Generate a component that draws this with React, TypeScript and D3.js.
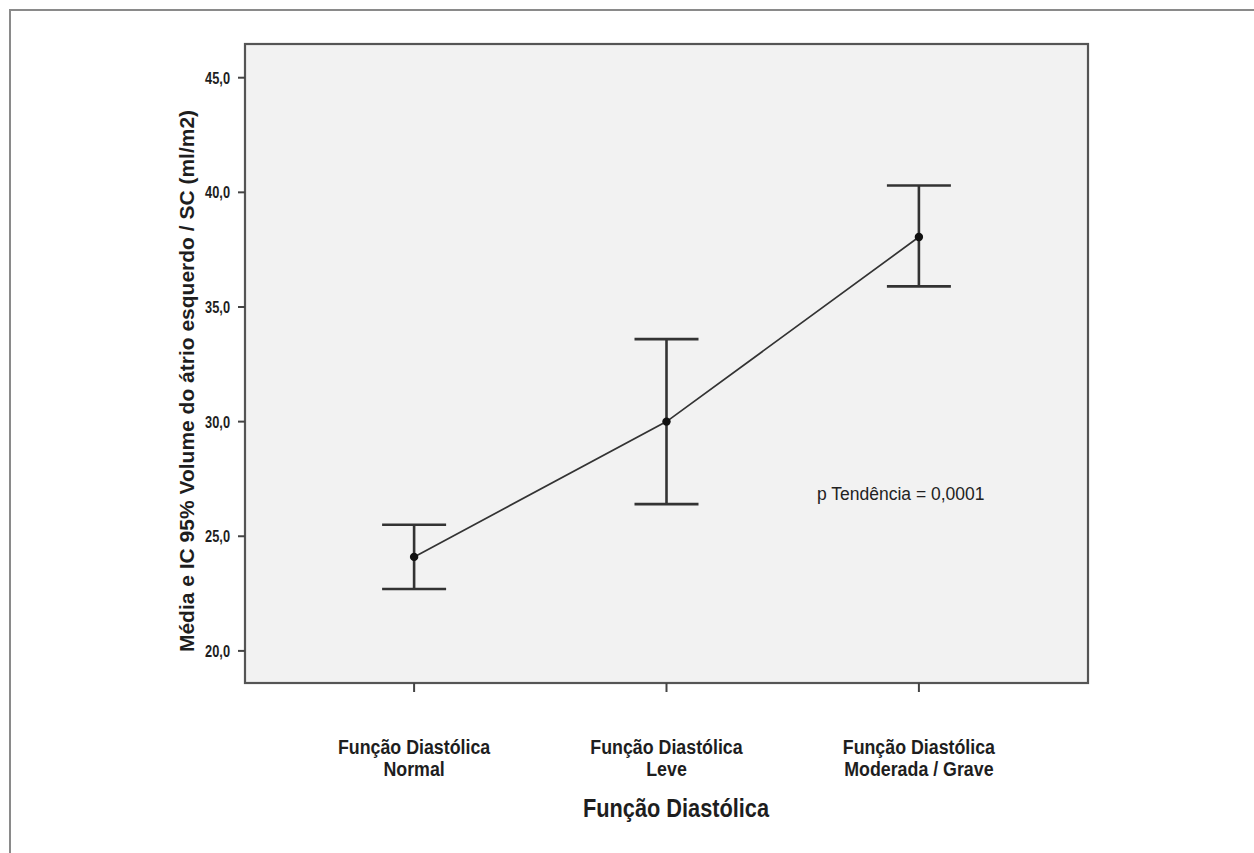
import React from 'react';
import * as d3 from 'd3';

const categories = ['Normal', 'Leve', 'Moderada / Grave'];
const labelPrefix = 'Função Diastólica';
const means = [24.1, 30.0, 38.05];
const lower = [22.7, 26.4, 35.9];
const upper = [25.5, 33.6, 40.3];
const yTicks = [20, 25, 30, 35, 40, 45];
const annotation = 'p Tendência = 0,0001';
const yTitle = 'Média e IC 95% Volume do átrio esquerdo / SC (ml/m2)';
const xTitle = 'Função Diastólica';

const width = 1254;
const height = 853;
const plot = { left: 245, top: 44, right: 1088, bottom: 683 };
const font = '"Liberation Sans", Arial, sans-serif';

// condensed bold text, the original uses a narrow face
const Narrow = ({ x, y, size, sx, anchor = 'middle', children }: any) => (
    <text transform={`translate(${x}, ${y}) scale(${sx}, 1)`} textAnchor={anchor}
        fontFamily={font} fontWeight="bold" fontSize={size} fill="#1e1e1e">{children}</text>
);

const App = () => {
    const xScale = d3.scalePoint<string>()
        .domain(categories)
        .range([plot.left, plot.right])
        .padding(0.67);

    const yScale = d3.scaleLinear()
        .domain([18.6, 46.47])
        .range([plot.bottom, plot.top]);

    const line = d3.line<number>()
        .x((_, i) => xScale(categories[i]) as number)
        .y(d => yScale(d));

    const fmt = (v: number) => v.toFixed(1).replace('.', ',');
    const capHalf = 32;

    return (
        <svg width={width} height={height} style={{ position: 'absolute', left: 0, top: 0 }}>
            <rect x={0} y={0} width={width} height={height} fill="#fff" />
            <path d={`M10,${height} V10 H${width}`} fill="none" stroke="#8a8a8a" strokeWidth={2} />

            <rect x={plot.left} y={plot.top} width={plot.right - plot.left} height={plot.bottom - plot.top}
                fill="#f2f2f2" stroke="#555" strokeWidth={2.2} />

            {/* y axis */}
            {yTicks.map(t => (
                <g key={t}>
                    <line x1={plot.left - 7} x2={plot.left} y1={yScale(t)} y2={yScale(t)} stroke="#444" strokeWidth={2} />
                    <Narrow x={plot.left - 15} y={yScale(t) + 6} size={16} sx={0.8} anchor="end">{fmt(t)}</Narrow>
                </g>
            ))}
            <text transform={`translate(194, 381) rotate(-90)`}
                textAnchor="middle" fontFamily={font} fontWeight="bold" fontSize={21} fill="#1e1e1e">
                {yTitle}
            </text>

            {/* x axis */}
            {categories.map(c => (
                <g key={c}>
                    <line x1={xScale(c)} x2={xScale(c)} y1={plot.bottom} y2={plot.bottom + 9} stroke="#444" strokeWidth={2} />
                    <Narrow x={xScale(c)} y={plot.bottom + 71} size={20} sx={0.89}>{labelPrefix}</Narrow>
                    <Narrow x={xScale(c)} y={plot.bottom + 93} size={20} sx={0.89}>{c}</Narrow>
                </g>
            ))}
            <Narrow x={676} y={plot.bottom + 134} size={25} sx={0.87}>{xTitle}</Narrow>

            {/* mean line */}
            <path d={line(means) as string} fill="none" stroke="#333" strokeWidth={1.7} />

            {/* error bars */}
            {categories.map((c, i) => {
                const x = xScale(c) as number;
                return (
                    <g key={c} stroke="#333" strokeWidth={2.6}>
                        <line x1={x} x2={x} y1={yScale(upper[i])} y2={yScale(lower[i])} />
                        <line x1={x - capHalf} x2={x + capHalf} y1={yScale(upper[i])} y2={yScale(upper[i])} />
                        <line x1={x - capHalf} x2={x + capHalf} y1={yScale(lower[i])} y2={yScale(lower[i])} />
                        <circle cx={x} cy={yScale(means[i])} r={4.2} fill="#111" stroke="none" />
                    </g>
                );
            })}

            <text x={817} y={yScale(26.6)} fontFamily={font} fontSize={17.5} fill="#222">{annotation}</text>
        </svg>
    );
};

export default App;
